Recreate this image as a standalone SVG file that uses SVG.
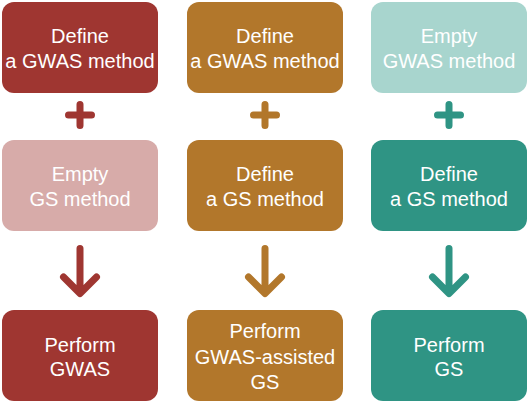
<svg xmlns="http://www.w3.org/2000/svg" width="530" height="404" viewBox="0 0 530 404">
<style>
.box{stroke:none}
.t{font-family:"Liberation Sans",Arial,Helvetica,sans-serif;font-size:20px;fill:#ffffff;text-anchor:middle}
.red{fill:#9F3631}.lred{fill:#D7ABA9}.brown{fill:#B2772B}.teal{fill:#2F9484}.lteal{fill:#A8D5CE}
.c{fill:none;stroke-width:7;stroke-linecap:round;stroke-linejoin:round}
.cr{stroke:#9F3631}.cb{stroke:#B2772B}.ct{stroke:#2F9484}
</style>
<g id="connectors">
<path class="c cr" d="M68.5 115H91.5M80 104.5V125.5"/>
<path class="c cb" d="M253.5 115H276.5M265 104.5V125.5"/>
<path class="c ct" d="M437.5 115H460.5M449 104.5V125.5"/>
<path class="c cr" d="M80 248.5V293M63.5 277L80 293.5L96.5 277"/>
<path class="c cb" d="M265 248.5V293M248.5 277L265 293.5L281.5 277"/>
<path class="c ct" d="M449 248.5V293M432.5 277L449 293.5L465.5 277"/>
</g>
<g id="n1"><rect class="box red" x="2" y="2" width="156" height="91" rx="12"/><text class="t" x="80" y="42.5">Define</text><text class="t" x="80" y="68">a GWAS method</text></g>
<g id="n2"><rect class="box brown" x="187" y="2" width="156" height="91" rx="12"/><text class="t" x="265" y="42.5">Define</text><text class="t" x="265" y="68">a GWAS method</text></g>
<g id="n3"><rect class="box lteal" x="371" y="2" width="156" height="91" rx="12"/><text class="t" x="449" y="42.5">Empty</text><text class="t" x="449" y="68">GWAS method</text></g>
<g id="n4"><rect class="box lred" x="2" y="140" width="156" height="91" rx="12"/><text class="t" x="80" y="181">Empty</text><text class="t" x="80" y="206">GS method</text></g>
<g id="n5"><rect class="box brown" x="187" y="140" width="156" height="91" rx="12"/><text class="t" x="265" y="181">Define</text><text class="t" x="265" y="206">a GS method</text></g>
<g id="n6"><rect class="box teal" x="371" y="140" width="156" height="91" rx="12"/><text class="t" x="449" y="181">Define</text><text class="t" x="449" y="206">a GS method</text></g>
<g id="n7"><rect class="box red" x="2" y="310" width="156" height="91" rx="12"/><text class="t" x="80" y="351.5">Perform</text><text class="t" x="80" y="376">GWAS</text></g>
<g id="n8"><rect class="box brown" x="187" y="310" width="156" height="91" rx="12"/><text class="t" x="265" y="338">Perform</text><text class="t" x="265" y="363.5">GWAS-assisted</text><text class="t" x="265" y="388.5">GS</text></g>
<g id="n9"><rect class="box teal" x="371" y="310" width="156" height="91" rx="12"/><text class="t" x="449" y="351.5">Perform</text><text class="t" x="449" y="376">GS</text></g>
</svg>
